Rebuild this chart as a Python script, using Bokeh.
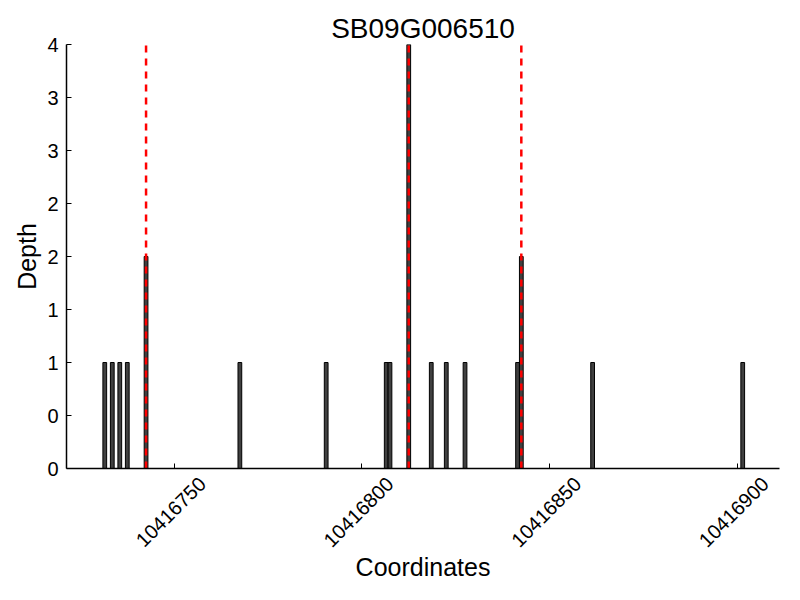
import math
from bokeh.plotting import figure
from bokeh.models import (FixedTicker, BasicTickFormatter, Range1d, ColumnDataSource,
                          LinearAxis)
from bokeh.embed import file_html
from bokeh.resources import INLINE

# Data
positions = [10416731, 10416733, 10416735, 10416737, 10416742, 10416767, 10416790,
             10416806, 10416807, 10416812, 10416818, 10416822, 10416827, 10416841,
             10416842, 10416861, 10416901]
depths = [1, 1, 1, 1, 2, 1, 1, 1, 1, 4, 1, 1, 1, 1, 2, 1, 1]
marked_positions = [10416742, 10416812, 10416842]
x_ticks = [10416750, 10416800, 10416850, 10416900]
y_ticks = [0, 0.5, 1, 1.5, 2, 2.5, 3, 3.5, 4]
y_tick_labels = ["0", "0", "1", "1", "2", "2", "3", "3", "4"]
title_text = "SB09G006510"

FONT = "Liberation Sans"
X0, X1 = 10416721.3, 10416911.3
LABEL_SHIFT = 7.5  # shift of the rotated tick-label axis so labels sit centred under ticks

p = figure(width=800, height=600, output_backend="svg", toolbar_location=None,
           x_range=Range1d(X0, X1), y_range=Range1d(0, 4),
           min_border_left=66, min_border_right=21, min_border_top=44, min_border_bottom=132)

p.title.text = title_text
p.title.align = "center"
p.title.text_font = FONT
p.title.text_font_size = "28px"
p.title.text_font_style = "normal"
p.title.text_color = "black"
p.title.standoff = 2

src = ColumnDataSource(dict(x=[v + 0.5 for v in positions], top=depths))
p.vbar(x="x", top="top", width=1.0, bottom=0, source=src,
       fill_color="#404040", line_color="black", line_width=1)

mx = [v + 0.5 for v in marked_positions]
p.segment(x0=mx, x1=mx, y0=[0] * len(mx), y1=[4] * len(mx),
          line_color="red", line_width=2.5, line_dash="7 6")

p.xgrid.visible = False
p.ygrid.visible = False
p.outline_line_color = None
p.background_fill_color = "white"
p.border_fill_color = "white"

# main bottom axis: line + inward ticks, no labels
xa = p.xaxis[0]
xa.ticker = FixedTicker(ticks=x_ticks)
xa.major_label_overrides = {t: "" for t in x_ticks}
xa.major_label_text_font_size = "1px"
xa.major_label_standoff = 0
xa.axis_line_color = "black"
xa.axis_line_width = 1.5
xa.major_tick_in = 5
xa.major_tick_out = 0
xa.minor_tick_line_color = None

# label axis (shifted range) carrying the rotated tick labels and axis title
p.extra_x_ranges = {"lab": Range1d(X0 - LABEL_SHIFT, X1 - LABEL_SHIFT)}
lab_axis = LinearAxis(x_range_name="lab", ticker=FixedTicker(ticks=x_ticks),
                      formatter=BasicTickFormatter(use_scientific=False))
lab_axis.axis_line_color = None
lab_axis.major_tick_line_color = None
lab_axis.minor_tick_line_color = None
lab_axis.major_label_orientation = math.pi / 4
lab_axis.major_label_standoff = 6
lab_axis.major_label_text_font = FONT
lab_axis.major_label_text_font_size = "20px"
lab_axis.major_label_text_color = "black"
lab_axis.axis_label = "Coordinates"
lab_axis.axis_label_standoff = -3
lab_axis.axis_label_text_font = FONT
lab_axis.axis_label_text_font_size = "25px"
lab_axis.axis_label_text_font_style = "normal"
lab_axis.axis_label_text_color = "black"
p.add_layout(lab_axis, "below")

ya = p.yaxis[0]
ya.ticker = FixedTicker(ticks=y_ticks)
ya.major_label_overrides = {t: l for t, l in zip(y_ticks, y_tick_labels)}
ya.axis_line_color = "black"
ya.axis_line_width = 1.5
ya.major_tick_in = 5
ya.major_tick_out = 0
ya.minor_tick_line_color = None
ya.major_label_standoff = 8
ya.major_label_text_font = FONT
ya.major_label_text_font_size = "20px"
ya.major_label_text_color = "black"
ya.axis_label = "Depth"
ya.axis_label_standoff = 3
ya.axis_label_text_font = FONT
ya.axis_label_text_font_size = "25px"
ya.axis_label_text_font_style = "normal"
ya.axis_label_text_color = "black"

open("out.html", "w").write(file_html(p, INLINE))
